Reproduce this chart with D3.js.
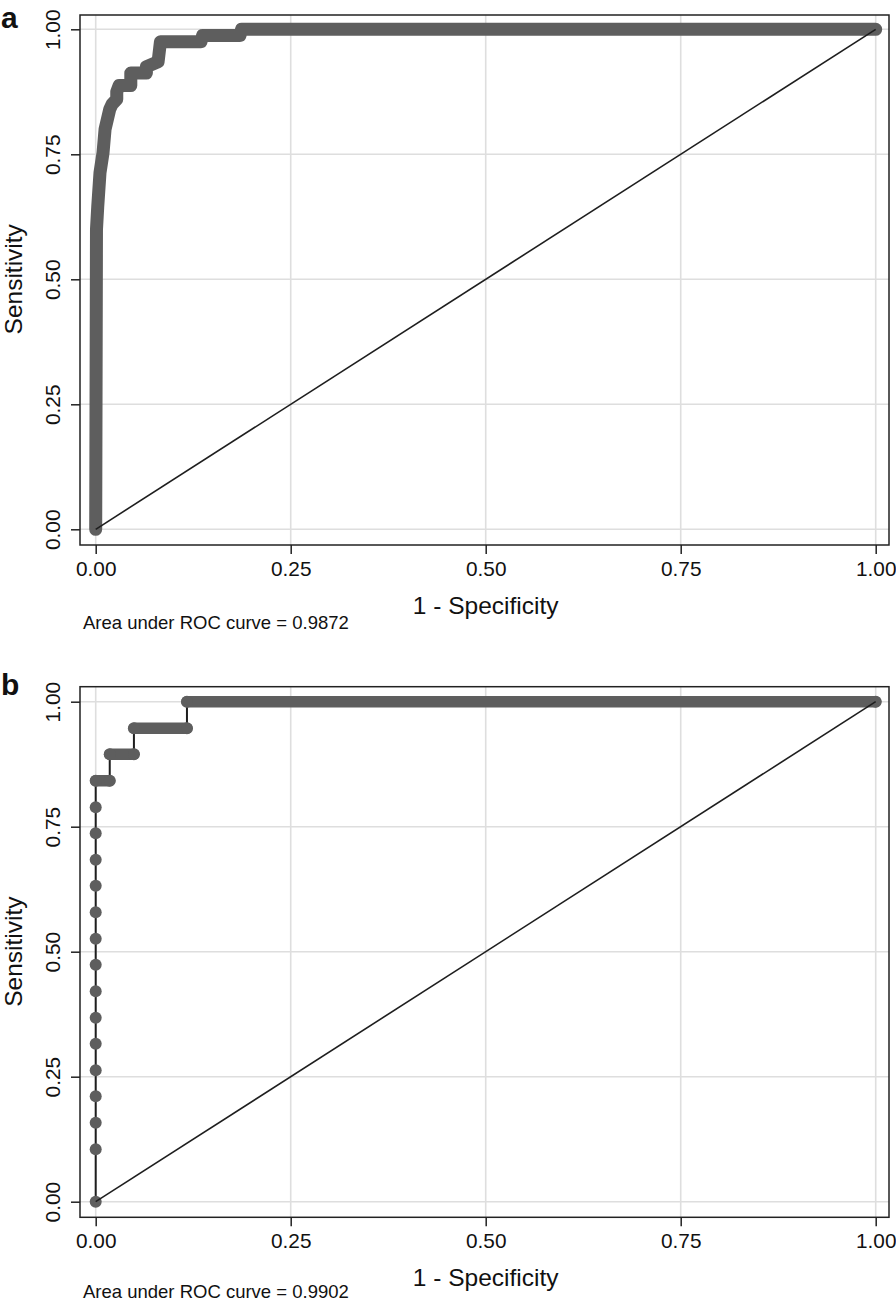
<!DOCTYPE html>
<html>
<head>
<meta charset="utf-8">
<script src="https://cdn.jsdelivr.net/npm/d3@7"></script>
<style>
  html, body { margin: 0; padding: 0; background: #fff; }
  svg { display: block; }
  text { font-family: "Liberation Sans", Arial, Helvetica, sans-serif; fill: #111; }
</style>
</head>
<body>
<svg id="chart" width="896" height="1303"></svg>
<script>
// ---------- data ----------
const tickValues = [0, 0.25, 0.5, 0.75, 1];
const tickLabels = ["0.00", "0.25", "0.50", "0.75", "1.00"];
const xTitle = "1 - Specificity";
const yTitle = "Sensitivity";
const panelLetters = ["a", "b"];
const aucTexts = ["Area under ROC curve = 0.9872", "Area under ROC curve = 0.9902"];

// Panel a: ROC curve corner points (dense markers)
const fprA = [0, 0.001, 0.0026, 0.0055, 0.0094, 0.012, 0.018, 0.021, 0.027, 0.027, 0.030, 0.045, 0.045, 0.065, 0.065, 0.080, 0.083, 0.135, 0.137, 0.185, 0.187, 1];
const tprA = [0, 0.600, 0.645, 0.713, 0.753, 0.800, 0.840, 0.850, 0.860, 0.875, 0.8875, 0.8875, 0.9125, 0.9125, 0.925, 0.935, 0.975, 0.975, 0.9875, 0.9875, 1, 1];

// Panel b: ROC points
const fprB = [0, 0, 0, 0, 0, 0, 0, 0, 0, 0, 0, 0, 0, 0, 0, 0, 0.018, 0.018, 0.049, 0.049, 0.117, 0.117, 1];
const tprB = [0, 0.105, 0.158, 0.211, 0.263, 0.316, 0.368, 0.421, 0.474, 0.526, 0.579, 0.632, 0.684, 0.737, 0.789, 0.842, 0.842, 0.895, 0.895, 0.947, 0.947, 1, 1];

// ---------- layout ----------
const panels = [
  { fpr: fprA, tpr: tprA, dense: true,  frameTop: 15,    frameBottom: 545,    yTop: 29.3,  yBottom: 529.3, noteDy: 84, letterY: 27.5 },
  { fpr: fprB, tpr: tprB, dense: false, frameTop: 686.7, frameBottom: 1217.3, yTop: 701.7, yBottom: 1201.7, noteDy: 81, letterY: 695.2 }
];
const frameLeft = 80, frameRight = 889;
const xLeft = 95.7, xRight = 875.7;
const markerColor = "#5e5e5e";
const markerR = 6;
const tickFont = 20.8;

const svg = d3.select("#chart");

panels.forEach((p, i) => {
  const g = svg.append("g");
  const x = d3.scaleLinear().domain([0, 1]).range([xLeft, xRight]);
  const y = d3.scaleLinear().domain([0, 1]).range([p.yBottom, p.yTop]);

  // gridlines
  g.append("g").selectAll("line.vg").data(tickValues).join("line")
    .attr("x1", d => x(d)).attr("x2", d => x(d))
    .attr("y1", p.frameTop).attr("y2", p.frameBottom)
    .attr("stroke", "#dedede").attr("stroke-width", 1.6);
  g.append("g").selectAll("line.hg").data(tickValues).join("line")
    .attr("y1", d => y(d)).attr("y2", d => y(d))
    .attr("x1", frameLeft).attr("x2", frameRight)
    .attr("stroke", "#dedede").attr("stroke-width", 1.6);

  // axes (ticks + labels)
  const xAxis = d3.axisBottom(x).tickValues(tickValues).tickFormat((d, k) => tickLabels[k])
    .tickSizeInner(9).tickSizeOuter(0).tickPadding(6);
  const xa = g.append("g").attr("transform", `translate(0,${p.frameBottom})`).call(xAxis);
  xa.select(".domain").remove();
  xa.selectAll(".tick line").attr("stroke", "#222").attr("stroke-width", 1.5);
  xa.selectAll(".tick text").attr("font-size", tickFont).attr("fill", "#111")
    .attr("font-family", "Liberation Sans, Arial, sans-serif")
    .attr("dy", null).attr("y", 31).attr("dominant-baseline", "auto");

  const yAxis = d3.axisLeft(y).tickValues(tickValues).tickFormat((d, k) => tickLabels[k])
    .tickSizeInner(9).tickSizeOuter(0);
  const ya = g.append("g").attr("transform", `translate(${frameLeft},0)`).call(yAxis);
  ya.select(".domain").remove();
  ya.selectAll(".tick line").attr("stroke", "#222").attr("stroke-width", 1.5);
  ya.selectAll(".tick text").attr("font-size", tickFont).attr("fill", "#111")
    .attr("font-family", "Liberation Sans, Arial, sans-serif")
    .attr("x", null).attr("dy", null).attr("text-anchor", "middle")
    .attr("transform", "translate(-20,0) rotate(-90)");

  // frame
  g.append("rect").attr("x", frameLeft).attr("y", p.frameTop)
    .attr("width", frameRight - frameLeft).attr("height", p.frameBottom - p.frameTop)
    .attr("fill", "none").attr("stroke", "#222").attr("stroke-width", 1.5);

  const pts = p.fpr.map((f, k) => [f, p.tpr[k]]);
  const line = d3.line().x(d => x(d[0])).y(d => y(d[1]));

  if (p.dense) {
    // dense markers form a continuous band
    g.append("path").datum(pts).attr("d", line)
      .attr("fill", "none").attr("stroke", markerColor).attr("stroke-width", markerR * 2 + 1)
      .attr("stroke-linecap", "round").attr("stroke-linejoin", "round");
  } else {
    // connecting line
    g.append("path").datum(pts).attr("d", line)
      .attr("fill", "none").attr("stroke", "#1e1e1e").attr("stroke-width", 2);
    // runs of dense markers along horizontal steps
    const runs = [];
    for (let k = 0; k < pts.length - 1; k++) {
      if (pts[k][1] === pts[k + 1][1] && pts[k][0] !== pts[k + 1][0]) runs.push([pts[k], pts[k + 1]]);
    }
    g.append("g").selectAll("line").data(runs).join("line")
      .attr("x1", d => x(d[0][0])).attr("y1", d => y(d[0][1]))
      .attr("x2", d => x(d[1][0])).attr("y2", d => y(d[1][1]))
      .attr("stroke", markerColor).attr("stroke-width", markerR * 2 - 0.5).attr("stroke-linecap", "round");
    g.append("g").selectAll("circle").data(pts).join("circle")
      .attr("cx", d => x(d[0])).attr("cy", d => y(d[1])).attr("r", markerR)
      .attr("fill", markerColor);
  }

  // reference diagonal
  g.append("line").attr("x1", x(0)).attr("y1", y(0)).attr("x2", x(1)).attr("y2", y(1))
    .attr("stroke", "#1e1e1e").attr("stroke-width", 1.6);

  // axis titles
  g.append("text").attr("x", (xLeft + xRight) / 2).attr("y", p.frameBottom + 69)
    .attr("text-anchor", "middle").attr("font-size", 24.5).text(xTitle);
  g.append("text")
    .attr("transform", `translate(22,${(p.yTop + p.yBottom) / 2}) rotate(-90)`)
    .attr("text-anchor", "middle").attr("font-size", 24.5).text(yTitle);

  // AUC note
  g.append("text").attr("x", 83).attr("y", p.frameBottom + p.noteDy)
    .attr("font-size", 18.5).text(aucTexts[i]);

  // panel letter
  g.append("text").attr("x", 1).attr("y", p.letterY)
    .attr("font-size", 30).attr("font-weight", "bold").text(panelLetters[i]);
});
</script>
</body>
</html>
